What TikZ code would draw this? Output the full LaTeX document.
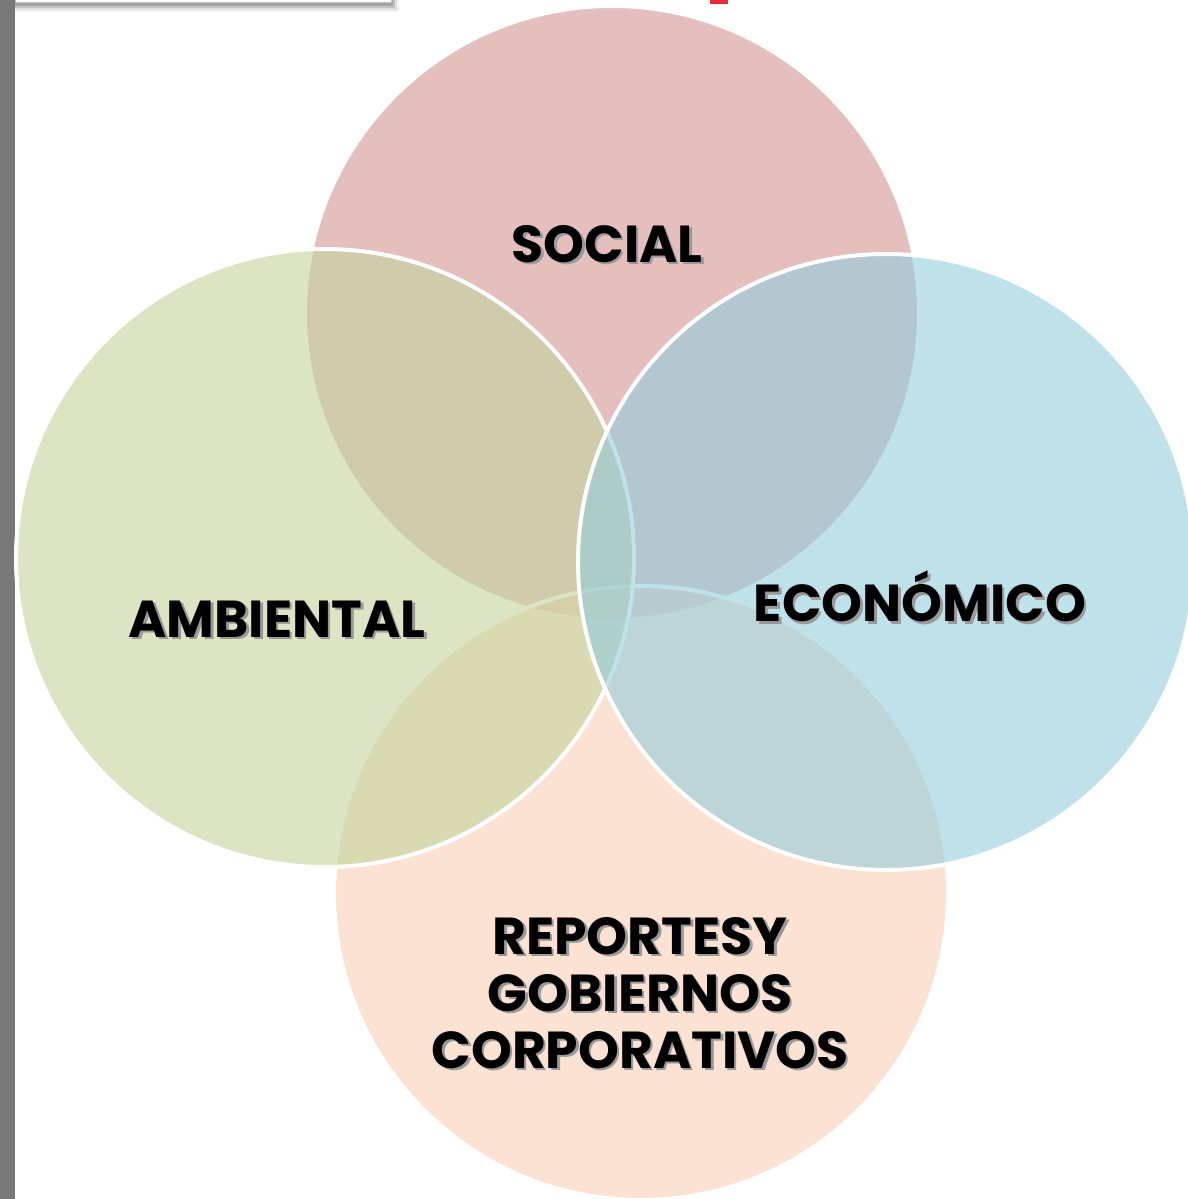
\documentclass[tikz,border=0pt]{standalone}
\usepackage{fontspec}
\setmainfont{Poppins}
\newcommand\shtxt[1]{\leavevmode\rlap{\kern2.5pt\raisebox{-2.5pt}{\textcolor{black!40}{#1}}}#1}
\begin{document}
\begin{tikzpicture}[x=1pt,y=-1pt,
  venn/.style={circle, inner sep=0pt, minimum size=#1, draw=white, line width=4pt},
  lbl/.style={font=\fontsize{52}{57}\selectfont\bfseries, text=black, align=center, inner sep=0pt}]
\useasboundingbox (0,0) rectangle (1188,1199);
\fill[white] (0,0) rectangle (1188,1199);
% left gray bar
\fill[black!53] (0,0) rectangle (15,1199);
% top-left box with shadow
\foreach \i/\o in {9/0.05,7/0.08,5/0.12,3/0.16}{
  \fill[black, opacity=\o] (15,0) rectangle ({390+\i},{3+\i});
}
\node[draw=black!25, line width=0.6pt, fill=white, inner sep=0pt, minimum width=376pt, minimum height=8pt, anchor=south west] (topbox) at (15,3) {};
% red square top right
\node[fill={rgb,255:red,240;green,40;blue,60}, inner sep=0pt, minimum width=18pt, minimum height=4pt, anchor=north west] (redsq) at (710,0) {};
% circles
\definecolor{cred}{RGB}{213,148,147}
\definecolor{cgreen}{RGB}{195,212,157}
\definecolor{cblue}{RGB}{148,205,220}
\definecolor{corange}{RGB}{250,208,182}
\node[venn=614pt, fill=cred, fill opacity=0.6] (social) at (612,313) {};
\node[venn=614pt, fill=corange, fill opacity=0.6] (reportes) at (641,893) {};
\node[venn=618pt, fill=cgreen, fill opacity=0.6] (ambiental) at (325,558) {};
\node[venn=616pt, fill=cblue, fill opacity=0.6] (economico) at (886,562) {};
% labels with shadows
\node[lbl] (tsocial) at (607,245) {\shtxt{SOCIAL}};
\node[lbl] (tamb) at (277,620) {\shtxt{AMBIENTAL}};
\node[lbl] (teco) at (920,598) {\shtxt{ECONÓMICO}};
\node[lbl] (trep) at (640,994) {\shtxt{REPORTESY}\\\shtxt{GOBIERNOS}\\\shtxt{CORPORATIVOS}};
\end{tikzpicture}
\end{document}
